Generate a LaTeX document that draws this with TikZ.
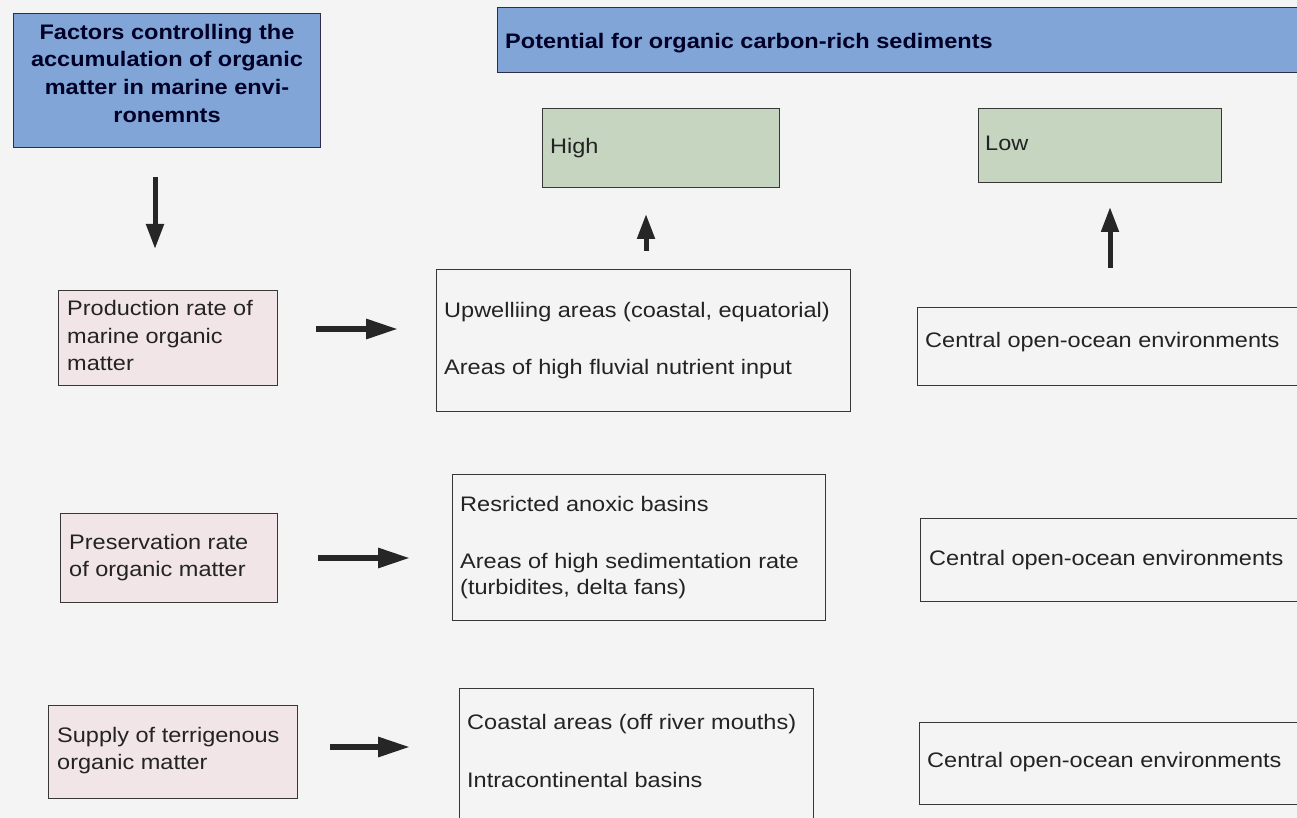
\documentclass[tikz,border=0pt]{standalone}
\usepackage{fontspec}
\setmainfont{Liberation Sans}[FakeStretch=1.12]
\usetikzlibrary{arrows.meta}
\definecolor{bg}{RGB}{244,244,244}
\definecolor{bluefill}{RGB}{128,165,214}
\definecolor{blueline}{RGB}{45,45,75}
\definecolor{greenfill}{RGB}{198,213,192}
\definecolor{pinkfill}{RGB}{241,229,231}
\definecolor{boxline}{RGB}{55,55,55}
\definecolor{txtcol}{RGB}{35,35,35}
\tikzset{
  basebox/.style={rectangle, anchor=north west, inner sep=0pt, line width=1.3pt},
  bluebox/.style={basebox, draw=blueline, fill=bluefill},
  greenbox/.style={basebox, draw=boxline, fill=greenfill},
  pinkbox/.style={basebox, draw=boxline, fill=pinkfill},
  plainbox/.style={basebox, draw=boxline, fill=bg},
  txt/.style={anchor=base west, inner sep=0pt, text=txtcol, font=\fontsize{21}{26}\selectfont},
  btxt/.style={anchor=base, inner sep=0pt, text=black!85!blue, font=\bfseries\fontsize{21}{26}\selectfont},
  btxtl/.style={btxt, anchor=base west},
  bigarrow/.style={line width=6pt, draw=black!85, -{Triangle[length=32pt,width=19pt]}},
  uparrow/.style={line width=5pt, draw=black!85, -{Triangle[length=25pt,width=17pt]}},
}
\begin{document}
\begin{tikzpicture}[x=1pt,y=-1pt]
\useasboundingbox (0,0) rectangle (1297,818);
\fill[bg] (0,0) rectangle (1297,818);
\clip (0,0) rectangle (1297,818);

% header boxes
\node[bluebox, minimum width=307pt, minimum height=134pt] (fac) at (13,13) {};
\node[btxt] (fac1) at (167,40) {Factors controlling the};
\node[btxt] (fac2) at (167,67) {accumulation of organic};
\node[btxt] (fac3) at (167,95) {matter in marine envi-};
\node[btxt] (fac4) at (167,123) {ronemnts};

\node[bluebox, minimum width=810pt, minimum height=65pt] (pot) at (497,7) {};
\node[btxtl] (pott) at (505,49) {Potential for organic carbon-rich sediments};

\node[greenbox, minimum width=237pt, minimum height=79pt] (high) at (542,108) {};
\node[txt] (hight) at (550,154) {High};
\node[greenbox, minimum width=243pt, minimum height=74pt] (low) at (978,108) {};
\node[txt] (lowt) at (985,151) {Low};

% row 1
\node[pinkbox, minimum width=219pt, minimum height=95pt] (prod) at (58,290) {};
\node[txt] (prod1) at (67,315) {Production rate of};
\node[txt] (prod2) at (67,343) {marine organic};
\node[txt] (prod3) at (67,370) {matter};

\node[plainbox, minimum width=414pt, minimum height=142pt] (upw) at (436,269) {};
\node[txt] (upw1) at (444,317) {Upwelliing areas (coastal, equatorial)};
\node[txt] (upw2) at (444,374) {Areas of high fluvial nutrient input};

\node[plainbox, minimum width=400pt, minimum height=78pt] (cen1) at (917,307) {};
\node[txt] (cen1t) at (925,347) {Central open-ocean environments};

% row 2
\node[pinkbox, minimum width=217pt, minimum height=89pt] (pres) at (60,513) {};
\node[txt] (pres1) at (69,549) {Preservation rate};
\node[txt] (pres2) at (69,576) {of organic matter};

\node[plainbox, minimum width=373pt, minimum height=146pt] (res) at (452,474) {};
\node[txt] (res1) at (460,511) {Resricted anoxic basins};
\node[txt] (res2) at (460,568) {Areas of high sedimentation rate};
\node[txt] (res3) at (460,594) {(turbidites, delta fans)};

\node[plainbox, minimum width=400pt, minimum height=83pt] (cen2) at (920,518) {};
\node[txt] (cen2t) at (929,565) {Central open-ocean environments};

% row 3
\node[pinkbox, minimum width=249pt, minimum height=93pt] (sup) at (48,705) {};
\node[txt] (sup1) at (57,742) {Supply of terrigenous};
\node[txt] (sup2) at (57,769) {organic matter};

\node[plainbox, minimum width=354pt, minimum height=140pt] (coa) at (459,688) {};
\node[txt] (coa1) at (467,729) {Coastal areas (off river mouths)};
\node[txt] (coa2) at (467,787) {Intracontinental basins};

\node[plainbox, minimum width=400pt, minimum height=82pt] (cen3) at (919,722) {};
\node[txt] (cen3t) at (927,767) {Central open-ocean environments};

% arrow end points
\coordinate (d1s) at (155,177); \coordinate (d1e) at (155,249);
\coordinate (u1s) at (646,251); \coordinate (u1e) at (646,214);
\coordinate (u2s) at (1110,268); \coordinate (u2e) at (1110,207);
\coordinate (r1s) at (316,329); \coordinate (r1e) at (398,329);
\coordinate (r2s) at (318,558); \coordinate (r2e) at (410,558);
\coordinate (r3s) at (330,747); \coordinate (r3e) at (410,747);

\draw[uparrow] (d1s) -- (d1e);
\draw[uparrow] (u1s) -- (u1e);
\draw[uparrow] (u2s) -- (u2e);
\draw[bigarrow] (r1s) -- (r1e);
\draw[bigarrow] (r2s) -- (r2e);
\draw[bigarrow] (r3s) -- (r3e);
\end{tikzpicture}
\end{document}
